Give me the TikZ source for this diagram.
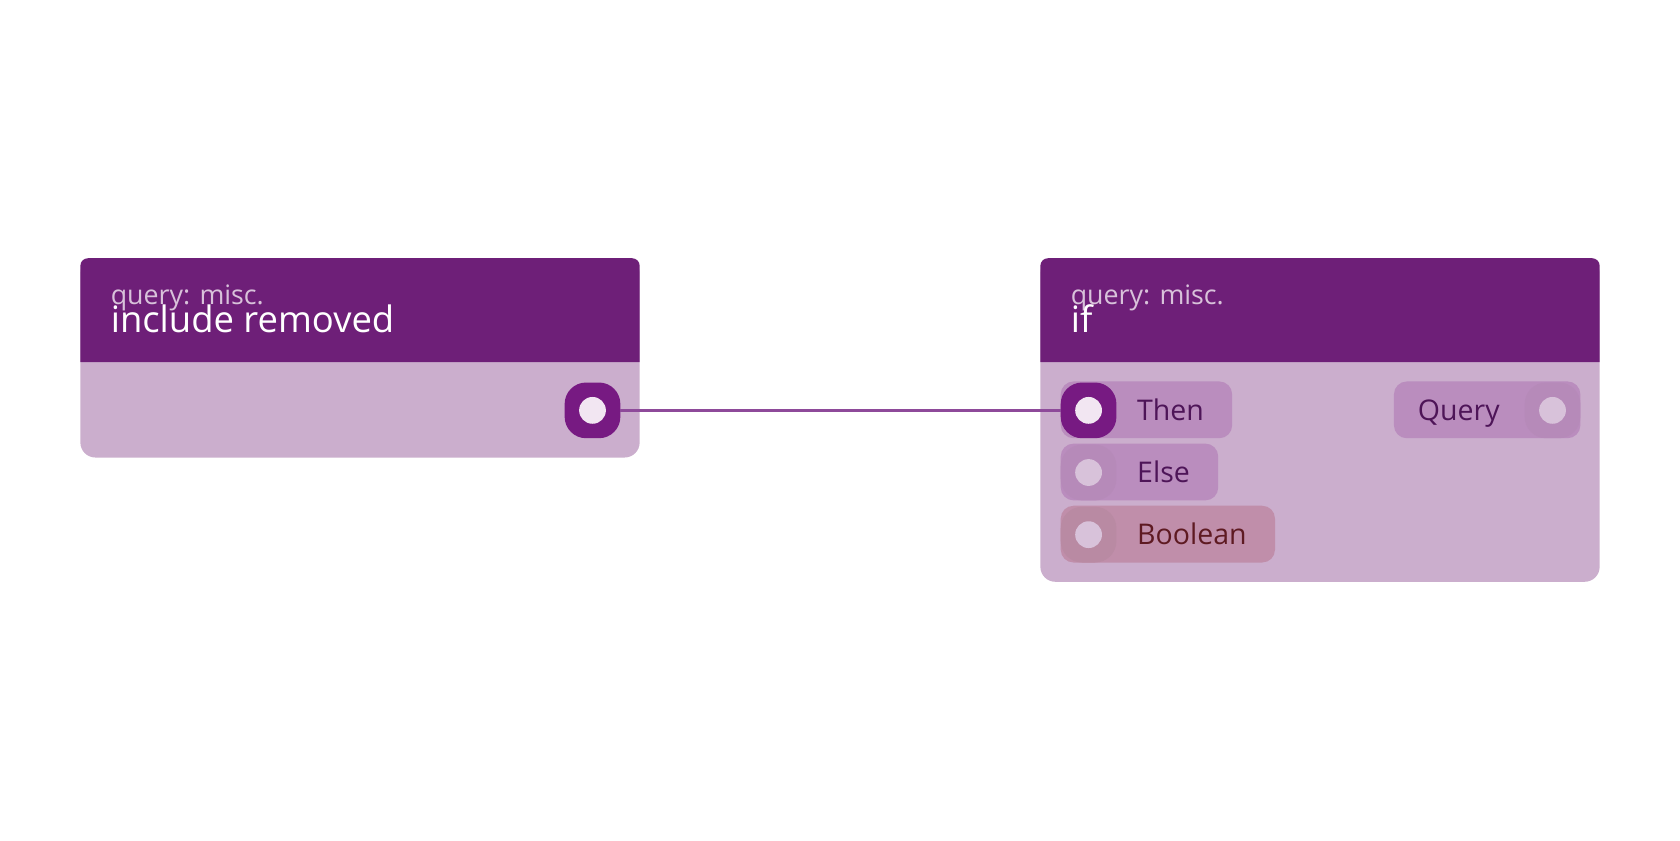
\documentclass[tikz,border=0pt]{standalone}
\usepackage{fontspec}
\setmainfont{Open Sans}
\definecolor{hdr}{HTML}{6E1F78}
\definecolor{bdy}{HTML}{CBAECD}
\definecolor{pill}{HTML}{BA8DBE}
\definecolor{pillb}{HTML}{C08EAA}
\definecolor{port}{HTML}{771A82}
\definecolor{portl}{HTML}{B68AB9}
\definecolor{portb}{HTML}{B98AA3}
\definecolor{dot}{HTML}{F2E6F2}
\definecolor{dotl}{HTML}{D8C2DA}
\definecolor{lbl}{HTML}{4E1558}
\definecolor{lblb}{HTML}{5E1A22}
\definecolor{wire}{HTML}{8E4A9A}
\begin{document}
\begin{tikzpicture}[x=0.5pt,y=-0.5pt,
  sub/.style={anchor=base west,text=dotl,font=\fontsize{12.5}{12.5}\selectfont,inner sep=0},
  ttl/.style={anchor=base west,text=white,font=\fontsize{17}{17}\selectfont,inner sep=0},
  lab/.style={anchor=base west,text=lbl,font=\fontsize{13.3}{13.3}\selectfont,inner sep=0}]
\useasboundingbox (0,0) rectangle (1568,784);
% left node
\fill[bdy,rounded corners=7] (75,241) rectangle (597,427);
\fill[hdr] (75,338) -- (75,248) arc[start angle=180,end angle=270,radius=7] -- (590,241) arc[start angle=270,end angle=360,radius=7] -- (597,338) -- cycle;
\node[sub] (s1) at (103,284) {query: misc.};
\node[ttl] (t1) at (103,310) {include removed};
% right node
\fill[bdy,rounded corners=7] (971,241) rectangle (1493,543);
\fill[hdr] (971,338) -- (971,248) arc[start angle=180,end angle=270,radius=7] -- (1486,241) arc[start angle=270,end angle=360,radius=7] -- (1493,338) -- cycle;
\node[sub] (s2) at (999,284) {query: misc.};
\node[ttl] (t2) at (999,310) {if};
% pills
\fill[pill,rounded corners=6] (990,356) rectangle (1150,409);
\fill[pill,rounded corners=6] (990,414) rectangle (1137,467);
\fill[pillb,rounded corners=6] (990,472) rectangle (1190,525);
\fill[pill,rounded corners=6] (1301,356) rectangle (1475,409);
\fill[port,rounded corners=10] (990,357) rectangle (1042,409);
\fill[portl,rounded corners=10] (990,415) rectangle (1042,467);
\fill[portb,rounded corners=10] (990,473) rectangle (1042,525);
\fill[portl,rounded corners=10] (1423,357) rectangle (1475,409);
\fill[port,rounded corners=10] (527,357) rectangle (579,409);
\node[lab] (l1) at (1061,392) {Then};
\node[lab] (l2) at (1061,450) {Else};
\node[lab,text=lblb] (l3) at (1061,508) {Boolean};
\node[lab] (l4) at (1323,392) {Query};
\coordinate (pout) at (553,383);
\coordinate (pin) at (1016,383);
\draw[wire,line width=1.5pt] (579,383) -- (990,383);
\fill[dot] (pout) circle (12.5);
\fill[dot] (pin) circle (12.5);
\fill[dotl] (1016,441) circle (12.5);
\fill[dotl] (1016,499) circle (12.5);
\fill[dotl] (1449,383) circle (12.5);
\end{tikzpicture}
\end{document}
